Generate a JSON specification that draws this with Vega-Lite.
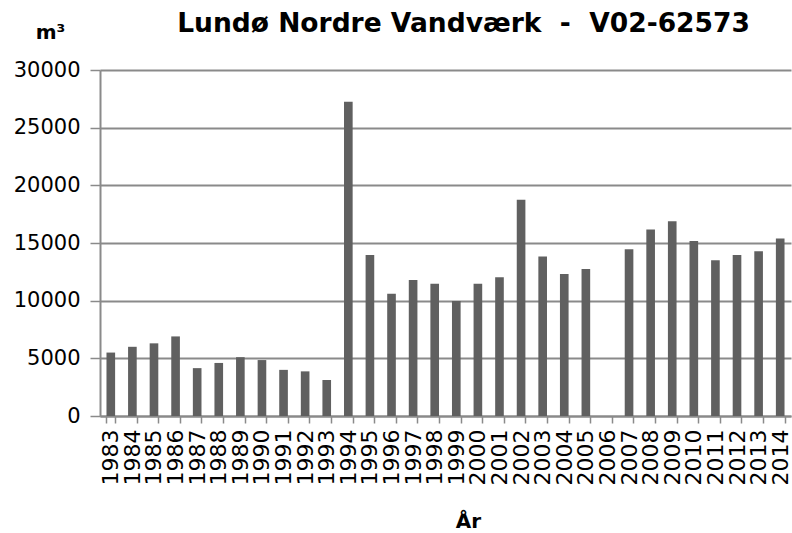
{
  "$schema": "https://vega.github.io/schema/vega-lite/v6.json",
  "width": 691,
  "height": 346,
  "autosize": "none",
  "padding": {"left": 100, "top": 70, "right": 1, "bottom": 117},
  "background": "white",
  "title": {
    "text": "Lundø Nordre Vandværk \u00a0-\u00a0 V02-62573",
    "font": "DejaVu Sans",
    "fontWeight": "bold",
    "fontSize": 26.5,
    "color": "black",
    "anchor": "middle",
    "baseline": "alphabetic",
    "dx": 18,
    "offset": 0,
    "dy": 36
  },
  "data": {
    "values": [
      {"year": "1983", "m3": 5500},
      {"year": "1984", "m3": 6000},
      {"year": "1985", "m3": 6300},
      {"year": "1986", "m3": 6900},
      {"year": "1987", "m3": 4150},
      {"year": "1988", "m3": 4600},
      {"year": "1989", "m3": 5100},
      {"year": "1990", "m3": 4850},
      {"year": "1991", "m3": 4000},
      {"year": "1992", "m3": 3870},
      {"year": "1993", "m3": 3120},
      {"year": "1994", "m3": 27250},
      {"year": "1995", "m3": 13950},
      {"year": "1996", "m3": 10600},
      {"year": "1997", "m3": 11800},
      {"year": "1998", "m3": 11470},
      {"year": "1999", "m3": 9970},
      {"year": "2000", "m3": 11470},
      {"year": "2001", "m3": 12020},
      {"year": "2002", "m3": 18760},
      {"year": "2003", "m3": 13840},
      {"year": "2004", "m3": 12310},
      {"year": "2005", "m3": 12750},
      {"year": "2006", "m3": 0},
      {"year": "2007", "m3": 14450},
      {"year": "2008", "m3": 16180},
      {"year": "2009", "m3": 16880},
      {"year": "2010", "m3": 15170},
      {"year": "2011", "m3": 13500},
      {"year": "2012", "m3": 13960},
      {"year": "2013", "m3": 14280},
      {"year": "2014", "m3": 15400}
    ]
  },
  "mark": {"type": "bar", "color": "#606060"},
  "encoding": {
    "x": {
      "field": "year",
      "type": "ordinal",
      "sort": null,
      "scale": {"paddingInner": 0.6, "paddingOuter": 0.3},
      "axis": {
        "title": "År",
        "titleFont": "DejaVu Sans",
        "titleFontWeight": "bold",
        "titleFontSize": 20,
        "titleColor": "black",
        "titleX": 368,
        "titleY": 111,
        "titleBaseline": "alphabetic",
        "titleAlign": "center",
        "labelAngle": 270,
        "labelAlign": "right",
        "labelBaseline": "middle",
        "labelFont": "DejaVu Sans",
        "labelFontSize": 22,
        "labelColor": "black",
        "labelPadding": 6,
        "tickBand": "extent",
        "tickSize": 7,
        "tickColor": "#8a8a8a",
        "tickWidth": 1.5,
        "domainColor": "#8a8a8a",
        "domainWidth": 2,
        "grid": false
      }
    },
    "y": {
      "field": "m3",
      "type": "quantitative",
      "scale": {"domain": [0, 30000], "nice": false},
      "axis": {
        "values": [0, 5000, 10000, 15000, 20000, 25000, 30000],
        "format": "d",
        "title": "m³",
        "titleFont": "DejaVu Sans",
        "titleFontWeight": "bold",
        "titleFontSize": 20,
        "titleColor": "black",
        "titleAngle": 0,
        "titleX": -50,
        "titleY": -32,
        "titleAlign": "center",
        "titleBaseline": "alphabetic",
        "labelFont": "DejaVu Sans",
        "labelFontSize": 21,
        "labelColor": "black",
        "labelPadding": 10,
        "tickSize": 10,
        "tickColor": "#8a8a8a",
        "tickWidth": 1.5,
        "domainColor": "#8a8a8a",
        "domainWidth": 2,
        "grid": true,
        "gridColor": "#8a8a8a",
        "gridWidth": 2
      }
    }
  },
  "config": {"view": {"stroke": null}}
}
